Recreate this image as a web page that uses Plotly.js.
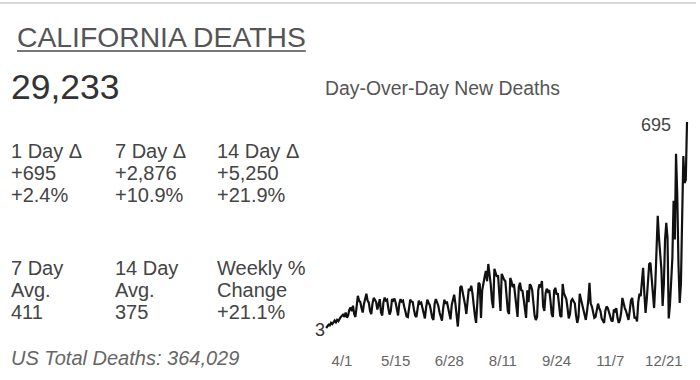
<!DOCTYPE html>
<html>
<head>
<meta charset="utf-8">
<script src="https://cdn.plot.ly/plotly-3.0.1.min.js"></script>
<style>
  html, body { margin: 0; padding: 0; background: #fff; }
  body { width: 700px; height: 380px; position: relative; overflow: hidden; font-family: Arial, "Liberation Sans", sans-serif; }
  #topline { position: absolute; left: 0; top: 2px; width: 696px; height: 0; border-top: 2px solid #d8d8d8; }
  .t { position: absolute; white-space: nowrap; }
  #title { left: 17px; top: 23px; font-size: 28.3px; line-height: 28px; color: #555; text-decoration: underline; text-decoration-color: #777; text-decoration-thickness: 2px; text-underline-offset: 3px; }
  #total { left: 11px; top: 70px; font-size: 35.5px; line-height: 35px; color: #333; }
  .stat { font-size: 20px; line-height: 22px; color: #444; }
  #us { left: 11px; top: 348px; font-size: 20px; line-height: 20px; color: #666; font-style: italic; }
  #ctitle { left: 325px; top: 79px; font-size: 19.4px; line-height: 19px; color: #555; }
  #chart { position: absolute; left: 0; top: 0; width: 700px; height: 380px; }
</style>
</head>
<body>
<div id="topline"></div>
<div id="chart"></div>
<div class="t" id="title">CALIFORNIA DEATHS</div>
<div class="t" id="total">29,233</div>
<div class="t stat" style="left:11px;top:140px">1 Day Δ<br>+695<br>+2.4%</div>
<div class="t stat" style="left:115px;top:140px">7 Day Δ<br>+2,876<br>+10.9%</div>
<div class="t stat" style="left:217px;top:140px">14 Day Δ<br>+5,250<br>+21.9%</div>
<div class="t stat" style="left:11px;top:257px">7 Day<br>Avg.<br>411</div>
<div class="t stat" style="left:115px;top:257px">14 Day<br>Avg.<br>375</div>
<div class="t stat" style="left:217px;top:257px">Weekly %<br>Change<br>+21.1%</div>
<div class="t" id="us">US Total Deaths: 364,029</div>
<div class="t" id="ctitle">Day-Over-Day New Deaths</div>
<script>
// Daily new deaths, California, starting 2020-03-19 (one value per day)
const startDate = '2020-03-19';
const mar = [3, 10, 14, 12, 20, 16, 24, 28, 22, 30, 26, 34, 40];
const apr = [44, 50, 40, 55, 38, 45, 65, 72, 60, 78, 50, 40, 75, 111, 95, 90, 70, 55, 84, 100, 118, 95, 88, 60, 50, 85, 104, 98, 90, 65];
const may = [80, 100, 55, 45, 90, 105, 95, 98, 70, 48, 60, 100, 95, 102, 88, 60, 45, 85, 100, 92, 95, 75, 55, 42, 40, 80, 98, 92, 90, 65, 45];
const jun = [40, 78, 95, 85, 88, 70, 45, 35, 72, 98, 88, 80, 60, 38, 30, 85, 100, 90, 78, 55, 38, 28, 70, 98, 85, 92, 72, 45, 32, 80];
const jul = [100, 115, 85, 30, 8, 60, 140, 144, 125, 110, 80, 50, 95, 135, 128, 145, 120, 70, 45, 20, 110, 155, 150, 37, 130, 160, 175, 195, 160, 218, 190];
const aug = [150, 94, 70, 202, 185, 175, 180, 130, 60, 185, 171, 165, 160, 120, 60, 50, 171, 160, 140, 151, 110, 65, 40, 140, 155, 130, 128, 100, 60, 37, 130];
const sep = [90, 150, 145, 130, 80, 45, 30, 40, 130, 150, 140, 161, 75, 60, 120, 135, 125, 130, 95, 50, 40, 128, 138, 115, 120, 85, 44, 40, 151, 120];
const oct = [110, 100, 70, 35, 50, 94, 100, 90, 85, 45, 20, 40, 118, 100, 80, 67, 45, 30, 60, 95, 155, 85, 75, 50, 37, 40, 71, 85, 70, 60, 35];
const nov = [27, 20, 60, 75, 70, 55, 40, 28, 25, 65, 60, 70, 37, 20, 30, 55, 104, 80, 70, 60, 45, 30, 60, 95, 104, 60, 35, 40, 25, 90];
const dec = [118, 110, 150, 205, 120, 54, 100, 180, 218, 222, 170, 90, 70, 150, 250, 380, 306, 260, 200, 77, 150, 300, 356, 306, 35, 80, 150, 238, 430, 300, 588];
const jan = [450, 218, 87, 150, 373, 581, 490, 500, 695];

const tickDates = ['2020-04-01', '2020-05-15', '2020-06-28', '2020-08-11', '2020-09-24', '2020-11-07', '2020-12-21'];
const tickLabels = ['4/1', '5/15', '6/28', '8/11', '9/24', '11/7', '12/21'];

const values = [].concat(mar, apr, may, jun, jul, aug, sep, oct, nov, dec, jan);
const dates = values.map((v, i) => {
  const d = new Date(startDate + 'T00:00:00Z');
  d.setUTCDate(d.getUTCDate() + i);
  return d.toISOString().slice(0, 10);
});

const trace = {
  x: dates, y: values, type: 'scatter', mode: 'lines',
  line: { color: '#111', width: 2.2 }, hoverinfo: 'skip'
};

const n = values.length;
const layout = {
  width: 700, height: 380,
  margin: { l: 0, r: 0, t: 0, b: 0 },
  paper_bgcolor: 'rgba(0,0,0,0)', plot_bgcolor: 'rgba(0,0,0,0)',
  showlegend: false,
  xaxis: {
    type: 'date', domain: [0.45723, 0.99014], range: ['2020-03-14', '2021-01-14'],
    showgrid: false, zeroline: false, showline: false, ticks: '',
    tickvals: tickDates, ticktext: tickLabels,
    tickfont: { family: 'Arial, Liberation Sans, sans-serif', size: 15, color: '#666' },
    ticklabelstandoff: 10
  },
  yaxis: {
    domain: [0.10526, 0.71053], range: [-37.31, 735.31],
    showgrid: false, zeroline: false, showline: false, showticklabels: false, ticks: ''
  },
  annotations: [
    { x: dates[0], y: values[0], xref: 'x', yref: 'y', text: String(values[0]), showarrow: false,
      xanchor: 'right', yanchor: 'middle', xshift: 1, yshift: -2,
      font: { family: 'Arial, Liberation Sans, sans-serif', size: 18, color: '#333' } },
    { x: dates[n - 1], y: values[n - 1], xref: 'x', yref: 'y', text: String(values[n - 1]), showarrow: false,
      xanchor: 'right', yanchor: 'middle', xshift: -14, yshift: -3,
      font: { family: 'Arial, Liberation Sans, sans-serif', size: 18, color: '#444' } }
  ]
};

Plotly.newPlot('chart', [trace], layout, { staticPlot: true, displayModeBar: false });
</script>
</body>
</html>
